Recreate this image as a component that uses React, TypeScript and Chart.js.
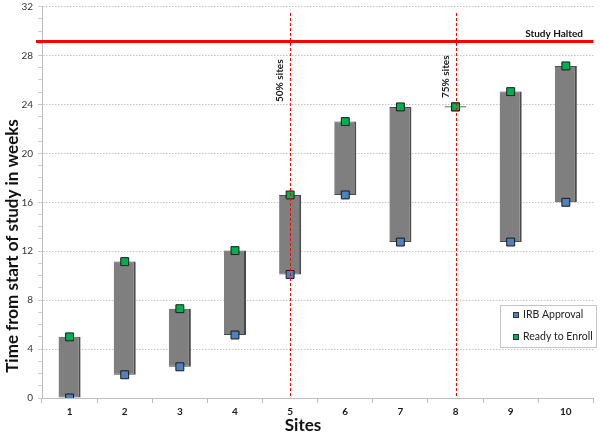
import React, { useEffect, useRef } from "react";
import { Chart, registerables } from "chart.js";

Chart.register(...registerables);

const sites = ["1", "2", "3", "4", "5", "6", "7", "8", "9", "10"];
const irbApproval = [0, 1.9, 2.55, 5.15, 10.1, 16.6, 12.75, 23.8, 12.75, 16.0];
const readyToEnroll = [5.0, 11.15, 7.3, 12.05, 16.6, 22.6, 23.8, 23.8, 25.05, 27.15];
const yTickLabels = [0, 4, 8, 12, 16, 20, 24, 28, 32];
const studyHalted = 29.15;
const milestoneSites = ["5", "8"];
const milestoneLabels = ["50% sites", "75% sites"];

const FONT = "Lato, 'Open Sans', sans-serif";

const overlayPlugin = {
  id: "overlay",
  afterDatasetsDraw(chart: any) {
    const { ctx, chartArea, scales } = chart;
    const x = scales.x;
    const y = scales.y;

    // vertical milestone lines
    milestoneSites.forEach((s) => {
      const px = Math.round(x.getPixelForValue(sites.indexOf(s))) + 0.5;
      ctx.save();
      ctx.beginPath();
      ctx.setLineDash([3, 2]);
      ctx.lineWidth = 1;
      ctx.strokeStyle = "rgb(255,0,0)";
      ctx.moveTo(px, 13);
      ctx.lineTo(px, chartArea.bottom);
      ctx.stroke();
      ctx.restore();
    });
    milestoneSites.forEach((s, i) => {
      const px = Math.round(x.getPixelForValue(sites.indexOf(s))) + 0.5;
      ctx.save();
      ctx.translate(px - 6, i === 0 ? 102 : 98);
      ctx.rotate(-Math.PI / 2);
      ctx.fillStyle = "#1a1a1a";
      ctx.font = `bold 10px ${FONT}`;
      ctx.textAlign = "left";
      ctx.textBaseline = "bottom";
      ctx.fillText(milestoneLabels[i], 0, 0);
      ctx.restore();
    });

    // study halted line
    const py = y.getPixelForValue(studyHalted);
    ctx.save();
    ctx.beginPath();
    ctx.setLineDash([]);
    ctx.strokeStyle = "rgb(255,0,0)";
    ctx.lineWidth = 3;
    ctx.moveTo(chartArea.left - 6, py);
    ctx.lineTo(chartArea.right, py);
    ctx.stroke();
    ctx.fillStyle = "#111";
    ctx.font = `bold 10px ${FONT}`;
    ctx.textAlign = "right";
    ctx.textBaseline = "bottom";
    ctx.fillText("Study Halted", 583, py - 3);
    ctx.restore();

    // legend
    ctx.save();
    const lx = 500, ly = 305, lw = 97, lh = 43;
    ctx.fillStyle = "#fff";
    ctx.fillRect(lx, ly, lw, lh);
    ctx.strokeStyle = "#c4c4c4";
    ctx.lineWidth = 1;
    ctx.strokeRect(lx + 0.5, ly + 0.5, lw - 1, lh - 1);
    const items = [
      { label: "IRB Approval", color: "#4F81BD" },
      { label: "Ready to Enroll", color: "#00B050" },
    ];
    items.forEach((it, i) => {
      const cy = ly + 10 + i * 22;
      ctx.fillStyle = it.color;
      ctx.fillRect(513, cy - 3, 6, 6);
      ctx.strokeStyle = "#333";
      ctx.strokeRect(513.5, cy - 2.5, 5, 5);
      ctx.fillStyle = "#222";
      ctx.font = `10.5px ${FONT}`;
      ctx.textAlign = "left";
      ctx.textBaseline = "middle";
      ctx.fillText(it.label, 523, cy);
    });
    ctx.restore();

    // axis titles
    ctx.save();
    ctx.fillStyle = "#111";
    ctx.font = `bold 17px ${FONT}`;
    ctx.textAlign = "center";
    ctx.textBaseline = "middle";
    ctx.fillText("Sites", 303, 426);
    ctx.translate(13, 246);
    ctx.rotate(-Math.PI / 2);
    ctx.fillText("Time from start of study in weeks", 0, 0);
    ctx.restore();
  },
};

export default function App() {
  const ref = useRef<HTMLCanvasElement | null>(null);
  useEffect(() => {
    if (!ref.current) return;
    const chart = new Chart(ref.current, {
      type: "bar",
      data: {
        labels: sites,
        datasets: [
          {
            type: "line",
            label: "Ready to Enroll",
            data: readyToEnroll,
            showLine: false,
            pointStyle: "rect",
            pointRadius: 5.6,
            pointBackgroundColor: "#00B050",
            pointBorderColor: "#1a1a1a",
            pointBorderWidth: 1,
            order: 1,
          } as any,
          {
            type: "line",
            label: "IRB Approval",
            data: irbApproval,
            showLine: false,
            pointStyle: "rect",
            pointRadius: 5.6,
            pointBackgroundColor: "#4F81BD",
            pointBorderColor: "#1a1a1a",
            pointBorderWidth: 1,
            order: 2,
          } as any,
          {
            type: "bar",
            label: "range",
            data: irbApproval.map((v, i) =>
              v === readyToEnroll[i] ? [v - 0.05, v + 0.05] : [v, readyToEnroll[i]]
            ),
            backgroundColor: "#7F7F7F",
            borderColor: "#4a4a4a",
            borderWidth: { top: 1, right: 2, bottom: 1, left: 0 },
            borderSkipped: false,
            barPercentage: 0.4,
            categoryPercentage: 1,
            order: 3,
          } as any,
        ],
      },
      options: {
        animation: false,
        responsive: false,
        maintainAspectRatio: false,
        layout: { padding: { left: 0, right: 3, top: 5, bottom: 0 } },
        plugins: {
          legend: { display: false },
          tooltip: { enabled: false },
        },
        scales: {
          x: {
            type: "category",
            offset: true,
            grid: {
              offset: true,
              drawOnChartArea: false,
              tickLength: 5,
              tickColor: "#bdbdbd",
            },
            border: { color: "#bdbdbd" },
            ticks: {
              font: { family: FONT, size: 10, weight: "bold" },
              color: "#1a1a1a",
              padding: 3,
            },
            afterFit: (s: any) => {
              s.height = 36;
            },
          },
          y: {
            min: 0,
            max: 32,
            ticks: {
              stepSize: 1,
              autoSkip: false,
              callback: (v: any) => (yTickLabels.includes(Number(v)) ? String(v) : ""),
              font: { family: FONT, size: 10 },
              color: "#333",
              padding: 5,
            },
            grid: {
              color: (c: any) =>
                c.tick && c.tick.value % 4 === 0 && c.tick.value !== 0 ? "#c4c4c4" : "rgba(0,0,0,0)",
              tickColor: "#cccccc",
              tickLength: 4,
            },
            border: { color: "#bdbdbd", dash: [1.5, 1.5] },
            afterFit: (s: any) => {
              s.width = 42;
              s.paddingTop = 0;
              s.paddingBottom = 0;
            },
          },
        },
      },
      plugins: [overlayPlugin],
    });
    return () => chart.destroy();
  }, []);
  return (
    <div style={{ position: "fixed", left: 0, top: 0, width: 600, height: 434, background: "#fff" }}>
      <canvas ref={ref} width={600} height={434} style={{ width: 600, height: 434 }} />
    </div>
  );
}
